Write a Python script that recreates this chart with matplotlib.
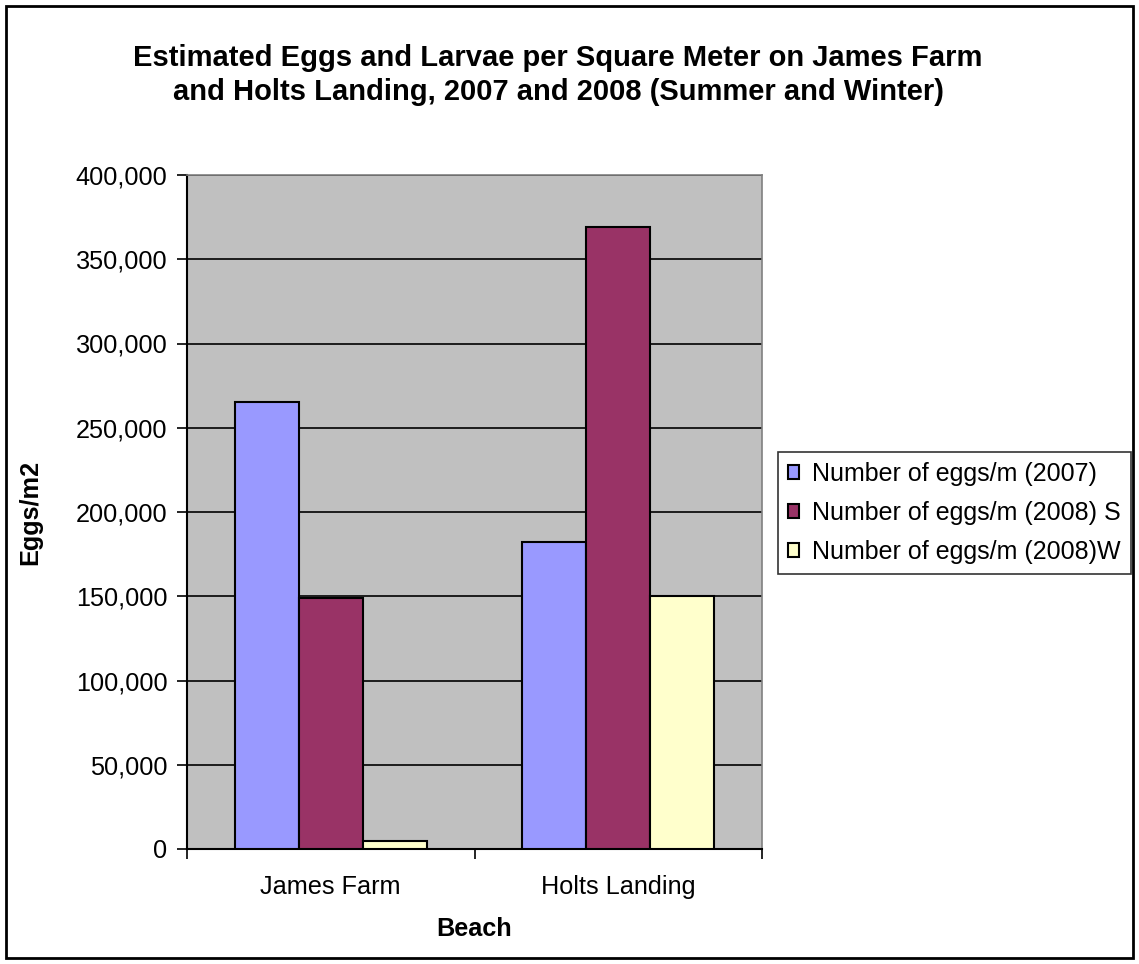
import matplotlib
matplotlib.use("Agg")
import matplotlib.pyplot as plt
import numpy as np
from matplotlib.ticker import FuncFormatter, FixedLocator

categories = ["James Farm", "Holts Landing"]
series_names = ["Number of eggs/m (2007)", "Number of eggs/m (2008) S", "Number of eggs/m (2008)W"]
eggs_2007 = [265500, 182000]
eggs_2008_s = [149000, 369000]
eggs_2008_w = [4700, 150000]
colors = ["#9999FF", "#993366", "#FFFFCC"]

plt.rcParams['font.family'] = ['Liberation Sans', 'DejaVu Sans']
FS = 18.2

fig = plt.figure(figsize=(11.39, 9.64), dpi=100)
ax = fig.add_axes([187/1139, 1-849/964, (762-187)/1139, (849-175)/964])
ax.set_facecolor("#C0C0C0")

x = np.arange(len(categories))
w = 1/4.5
for i, (vals, name, c) in enumerate(zip([eggs_2007, eggs_2008_s, eggs_2008_w], series_names, colors)):
    ax.bar(x + (i-1)*w, vals, width=w, color=c, edgecolor="black", linewidth=1.5, label=name, zorder=3)

ax.set_xlim(-0.5, 1.5)
ax.set_ylim(0, 400000)
ax.set_yticks(np.arange(0, 400001, 50000))
ax.yaxis.set_major_formatter(FuncFormatter(lambda v, p: f"{int(v):,}"))
ax.yaxis.grid(True, color="black", linewidth=1.2, zorder=1)
ax.set_axisbelow(True)

ax.xaxis.set_major_locator(FixedLocator([-0.5, 0.5, 1.5]))
ax.xaxis.set_minor_locator(FixedLocator([0, 1]))
ax.set_xticklabels(["", "", ""])
ax.set_xticklabels(categories, minor=True)
ax.tick_params(axis='x', which='minor', length=0, labelsize=FS, pad=19)
ax.tick_params(axis='x', which='major', length=7, width=1.2, direction='out')
ax.tick_params(axis='y', length=7, width=1.2, direction='out', labelsize=FS, pad=7)

for s in ["top", "right"]:
    ax.spines[s].set_color("#808080")
    ax.spines[s].set_linewidth(1.2)
for s in ["left", "bottom"]:
    ax.spines[s].set_color("black")
    ax.spines[s].set_linewidth(1.5)

ax.set_xlabel("Beach", fontsize=FS, fontweight="bold", labelpad=13)
ax.set_ylabel("Eggs/m2", fontsize=FS, fontweight="bold", labelpad=24)

fig.text(0.49, 0.922, "Estimated Eggs and Larvae per Square Meter on James Farm\nand Holts Landing, 2007 and 2008 (Summer and Winter)",
         ha="center", va="center", fontsize=21, fontweight="bold", linespacing=1.25)

leg = fig.legend(loc="upper left", bbox_to_anchor=(778/1139, 1-452/964), fontsize=18,
                 frameon=True, fancybox=False, edgecolor="black", handlelength=0.45, handleheight=0.45,
                 handletextpad=0.5, borderpad=0.4, labelspacing=0.6, borderaxespad=0)
leg.get_frame().set_linewidth(1.2)

border = plt.Rectangle((6/1139, 6/964), 1-12/1139, 1-12/964, transform=fig.transFigure,
                       fill=False, edgecolor="black", linewidth=2)
fig.patches.append(border)

fig.savefig("out.png", dpi=100)
